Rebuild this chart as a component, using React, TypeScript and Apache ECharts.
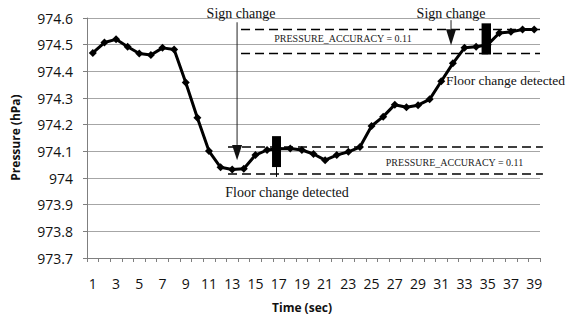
import React, { useEffect, useRef } from "react";
import * as echarts from "echarts";

const categories = ["1","2","3","4","5","6","7","8","9","10","11","12","13","14","15","16","17","18","19","20","21","22","23","24","25","26","27","28","29","30","31","32","33","34","35","36","37","38","39"];
const pressure = [974.469, 974.508, 974.52, 974.492, 974.467, 974.461, 974.488, 974.482, 974.358, 974.226, 974.101, 974.04, 974.032, 974.035, 974.086, 974.105, 974.11, 974.111, 974.105, 974.09, 974.067, 974.086, 974.098, 974.116, 974.195, 974.23, 974.275, 974.265, 974.273, 974.295, 974.363, 974.43, 974.488, 974.492, 974.5, 974.544, 974.548, 974.557, 974.557];
const yMin = 973.7;
const yMax = 974.6;
const yStep = 0.1;

// annotation anchors in data space: [fractional category index, pressure]
const bands = [
  { from: 11.64, to: 38.75, hi: 974.116, lo: 974.015 },
  { from: 12.76, to: 38.5, hi: 974.557, lo: 974.467 },
];
const arrows = [
  { x: 12.42, top: 974.584, head: 974.124, tip: 974.067, label: "Sign change", labelX: 12.76, labelY: 974.618 },
  { x: 30.84, top: 974.592, head: 974.558, tip: 974.498, label: "Sign change", labelX: 30.84, labelY: 974.618 },
];
const blocks = [
  { x0: 15.43, x1: 16.2, hi: 974.157, lo: 974.041, stem: 974.004 },
  { x0: 33.47, x1: 34.28, hi: 974.58, lo: 974.463, stem: null as number | null },
];
const accTexts = [
  { text: "PRESSURE_ACCURACY = 0.11", x: 21.54, y: 974.524 },
  { text: "PRESSURE_ACCURACY = 0.11", x: 31.14, y: 974.06 },
];
const floorTexts = [
  { text: "Floor change detected", x: 30.4, y: 974.367, align: "left", size: 13.5 },
  { text: "Floor change detected", x: 16.72, y: 973.944, align: "center", size: 14 },
];

export default function App() {
  const ref = useRef<HTMLDivElement>(null);
  useEffect(() => {
    if (!ref.current) return;
    const chart = echarts.init(ref.current, undefined, { renderer: "svg" });
    const axisFont = "'Open Sans', sans-serif";
    chart.setOption({
      animation: false,
      backgroundColor: "#fff",
      grid: { left: 87, right: 36, top: 18, bottom: 69, containLabel: false },
      xAxis: {
        type: "category",
        data: categories,
        boundaryGap: true,
        axisLine: { show: true, lineStyle: { color: "#7f7f7f", width: 1 } },
        axisTick: { show: true, interval: 0, alignWithLabel: false, length: 4, lineStyle: { color: "#7f7f7f", width: 1 } },
        axisLabel: { interval: 1, margin: 18, fontSize: 14, color: "#111", fontFamily: axisFont },
        splitLine: { show: false },
      },
      yAxis: {
        type: "value",
        min: yMin,
        max: yMax,
        interval: yStep,
        axisLine: { show: true, lineStyle: { color: "#7f7f7f", width: 1 } },
        axisTick: { show: true, length: 4, lineStyle: { color: "#7f7f7f" } },
        axisLabel: {
          margin: 14,
          fontSize: 14,
          color: "#111",
          fontFamily: axisFont,
          formatter: (v: number) => String(+v.toFixed(1)),
        },
        splitLine: { show: true, lineStyle: { color: "#a6a6a6", width: 1 } },
      },
      series: [
        {
          type: "line",
          data: pressure,
          symbol: "diamond",
          symbolSize: 8,
          showAllSymbol: true,
          lineStyle: { color: "#000", width: 3 },
          itemStyle: { color: "#000" },
          z: 3,
        },
      ],
    });

    const p0 = chart.convertToPixel({ gridIndex: 0 }, ["1", 974]) as number[];
    const p1 = chart.convertToPixel({ gridIndex: 0 }, ["2", 974.1]) as number[];
    const dx = p1[0] - p0[0];
    const dy = (p1[1] - p0[1]) / 0.1;
    const X = (i: number) => p0[0] + i * dx;
    const Y = (v: number) => p0[1] + (v - 974) * dy;

    const serif = "'Liberation Serif', 'Times New Roman', serif";
    const g: any[] = [];
    bands.forEach((b) => {
      [b.hi, b.lo].forEach((v) => {
        g.push({
          type: "line",
          z: 10,
          shape: { x1: X(b.from), y1: Y(v), x2: X(b.to), y2: Y(v) },
          style: { stroke: "#000", lineWidth: 1.5, lineDash: [9, 5] },
        });
      });
    });
    arrows.forEach((a) => {
      const x = X(a.x);
      g.push({ type: "line", z: 10, shape: { x1: x, y1: Y(a.top), x2: x, y2: Y(a.head) }, style: { stroke: "#222", lineWidth: 1 } });
      g.push({
        type: "polygon",
        z: 10,
        shape: { points: [[x - 5, Y(a.head)], [x + 5, Y(a.head)], [x, Y(a.tip)]] },
        style: { fill: "#111" },
      });
      g.push({
        type: "text",
        z: 10,
        x: X(a.labelX),
        y: Y(a.labelY),
        style: { text: a.label, font: `14px ${serif}`, fill: "#111", align: "center", verticalAlign: "middle" },
      });
    });
    blocks.forEach((b) => {
      g.push({
        type: "rect",
        z: 11,
        shape: { x: X(b.x0), y: Y(b.hi), width: X(b.x1) - X(b.x0), height: Y(b.lo) - Y(b.hi) },
        style: { fill: "#000" },
      });
      if (b.stem !== null) {
        const cx = (X(b.x0) + X(b.x1)) / 2;
        g.push({ type: "line", z: 11, shape: { x1: cx, y1: Y(b.lo), x2: cx, y2: Y(b.stem) }, style: { stroke: "#000", lineWidth: 1 } });
      }
    });
    accTexts.forEach((t) => {
      g.push({
        type: "text",
        z: 10,
        x: X(t.x),
        y: Y(t.y),
        style: { text: t.text, font: `10px ${serif}`, fill: "#222", align: "center", verticalAlign: "middle" },
      });
    });
    floorTexts.forEach((t) => {
      g.push({
        type: "text",
        z: 10,
        x: X(t.x),
        y: Y(t.y),
        style: { text: t.text, font: `${t.size}px ${serif}`, fill: "#111", align: t.align, verticalAlign: "middle" },
      });
    });
    g.push({
      type: "text",
      x: 15,
      y: 137.5,
      rotation: Math.PI / 2,
      style: { text: "Pressure (hPa)", font: `bold 12px ${axisFont}`, fill: "#111", align: "center", verticalAlign: "middle" },
    });
    g.push({
      type: "text",
      x: 302,
      y: 307,
      style: { text: "Time (sec)", font: `bold 12px ${axisFont}`, fill: "#111", align: "center", verticalAlign: "middle" },
    });
    chart.setOption({ graphic: g });

    return () => chart.dispose();
  }, []);
  return <div ref={ref} style={{ width: 576, height: 327, margin: -8 }} />;
}
